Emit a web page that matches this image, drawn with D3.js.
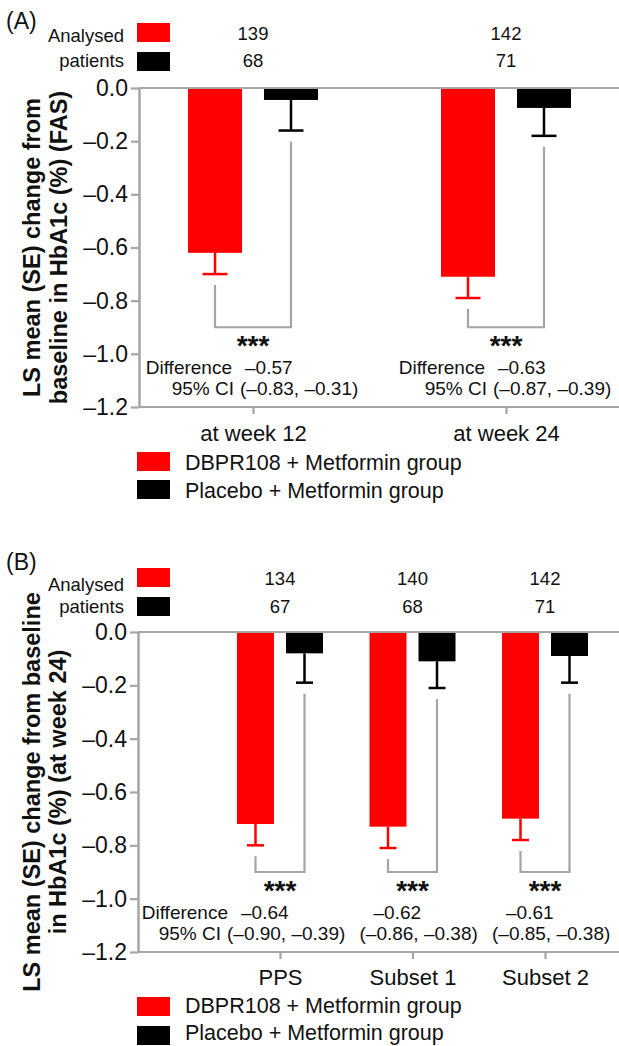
<!DOCTYPE html>
<html>
<head>
<meta charset="utf-8">
<script src="https://cdn.jsdelivr.net/npm/d3@7"></script>
<style>
  body { margin: 0; background: #fff; }
  svg text { font-family: "Liberation Sans", Arial, sans-serif; fill: #111; }
</style>
</head>
<body>
<div id="chart"></div>
<script>
// treatment groups (legend order)
var groups = ["DBPR108 + Metformin group", "Placebo + Metformin group"];
var groupColors = ["#ff0000", "#000000"];
var yTicks = [0, -0.2, -0.4, -0.6, -0.8, -1.0, -1.2];

// (A) FAS, week 12 / week 24
var catsA = ["at week 12", "at week 24"];
var nDbprA = [139, 142];
var nPlaceboA = [68, 71];
var meanDbprA = [-0.62, -0.71];
var seDbprA = [0.08, 0.08];
var meanPlaceboA = [-0.045, -0.075];
var sePlaceboA = [0.115, 0.105];
var diffA = ["–0.57", "–0.63"];
var ciA = ["(–0.83, –0.31)", "(–0.87, –0.39)"];

// (B) sensitivity sets at week 24
var catsB = ["PPS", "Subset 1", "Subset 2"];
var nDbprB = [134, 140, 142];
var nPlaceboB = [67, 68, 71];
var meanDbprB = [-0.72, -0.73, -0.70];
var seDbprB = [0.08, 0.08, 0.08];
var meanPlaceboB = [-0.08, -0.11, -0.09];
var sePlaceboB = [0.11, 0.10, 0.10];
var diffB = ["–0.64", "–0.62", "–0.61"];
var ciB = ["(–0.90, –0.39)", "(–0.86, –0.38)", "(–0.85, –0.38)"];

var W = 619, H = 1046;
var gray = "#a5a5a5";

var svg = d3.select("#chart").append("svg")
    .attr("width", W)
    .attr("height", H);

var panels = [
    {
        tag: "(A)", tagY: 29,
        title: ["LS mean (SE) change from", "baseline in HbA1c (%) (FAS)"], titleX: [40, 67],
        cats: catsA, nD: nDbprA, nP: nPlaceboA, meanD: meanDbprA, seD: seDbprA,
        meanP: meanPlaceboA, seP: sePlaceboA, diff: diffA, ci: ciA,
        boxY: [23, 52], nY: [39.5, 67], headY: [42, 67],
        yRange: [407, 88], axisX: 139, catRange: [253, 506],
        inner: 65, innerPad: 0.289, capW: 25, labelPad: 11,
        valOff: -8, ciOff: -13, labelsAll: true, legendY: [452, 480], legendDy: [18, 18]
    },
    {
        tag: "(B)", tagY: 570,
        title: ["LS mean (SE) change from baseline", "in HbA1c (%) (at week 24)"], titleX: [40, 66],
        cats: catsB, nD: nDbprB, nP: nPlaceboB, meanD: meanDbprB, seD: seDbprB,
        meanP: meanPlaceboB, seP: sePlaceboB, diff: diffB, ci: ciB,
        boxY: [568, 597], nY: [585, 613], headY: [591, 613],
        yRange: [952, 632], axisX: 138, catRange: [280, 545],
        inner: 43, innerPad: 0.245, capW: 17, labelPad: 10,
        valOff: -39, ciOff: -53, labelsAll: false, legendY: [997, 1026], legendDy: [16, 14]
    }
];

panels.forEach(function (p) { drawPanel(p); });

function drawPanel(p) {
    var g = svg.append("g");

    var y = d3.scaleLinear().domain([-1.2, 0]).range(p.yRange);
    var x = d3.scalePoint().domain(p.cats).range(p.catRange);
    var xg = d3.scaleBand().domain(groups).range([-p.inner, p.inner])
        .paddingInner(p.innerPad).paddingOuter(0);

    var rows = p.cats.map(function (c, i) {
        return {
            cat: c, diff: p.diff[i], ci: p.ci[i], i: i,
            vals: [
                { grp: groups[0], mean: p.meanD[i], se: p.seD[i], n: p.nD[i], color: groupColors[0] },
                { grp: groups[1], mean: p.meanP[i], se: p.seP[i], n: p.nP[i], color: groupColors[1] }
            ]
        };
    });

    // panel tag
    g.append("text").attr("x", 6).attr("y", p.tagY)
        .style("font-size", "23px").text(p.tag);

    // header: analysed patients
    g.append("text").attr("x", 124).attr("y", p.headY[0]).attr("text-anchor", "end")
        .style("font-size", "18.5px").text("Analysed");
    g.append("text").attr("x", 124).attr("y", p.headY[1]).attr("text-anchor", "end")
        .style("font-size", "18.5px").text("patients");
    groups.forEach(function (grp, k) {
        g.append("rect").attr("x", 137).attr("y", p.boxY[k])
            .attr("width", 33).attr("height", 19).attr("fill", groupColors[k]);
    });
    rows.forEach(function (r) {
        r.vals.forEach(function (v, k) {
            g.append("text").attr("x", x(r.cat)).attr("y", p.nY[k])
                .attr("text-anchor", "middle").style("font-size", "18.5px").text(v.n);
        });
    });

    // y axis title
    var midY = (p.yRange[0] + p.yRange[1]) / 2;
    p.title.forEach(function (t, k) {
        g.append("text")
            .attr("transform", "translate(" + p.titleX[k] + "," + midY + ") rotate(-90)")
            .attr("text-anchor", "middle")
            .style("font-size", "23.5px").style("font-weight", "bold")
            .text(t);
    });

    // bars
    var grp = g.selectAll(".cat").data(rows).enter().append("g")
        .attr("class", "cat")
        .attr("transform", function (d) { return "translate(" + x(d.cat) + ",0)"; });

    grp.selectAll("rect.bar").data(function (d) { return d.vals; }).enter()
        .append("rect").attr("class", "bar")
        .attr("x", function (v) { return xg(v.grp); })
        .attr("width", xg.bandwidth())
        .attr("y", y(0))
        .attr("height", function (v) { return y(v.mean) - y(0); })
        .attr("fill", function (v) { return v.color; });

    // error bars
    var cx = function (v) { return xg(v.grp) + xg.bandwidth() / 2; };
    grp.selectAll("line.stem").data(function (d) { return d.vals; }).enter()
        .append("line").attr("class", "stem")
        .attr("x1", cx).attr("x2", cx)
        .attr("y1", function (v) { return y(v.mean); })
        .attr("y2", function (v) { return y(v.mean - v.se); })
        .attr("stroke", function (v) { return v.color; })
        .attr("stroke-width", 2.5);
    grp.selectAll("line.cap").data(function (d) { return d.vals; }).enter()
        .append("line").attr("class", "cap")
        .attr("x1", function (v) { return cx(v) - p.capW / 2; })
        .attr("x2", function (v) { return cx(v) + p.capW / 2; })
        .attr("y1", function (v) { return y(v.mean - v.se); })
        .attr("y2", function (v) { return y(v.mean - v.se); })
        .attr("stroke", function (v) { return v.color; })
        .attr("stroke-width", 2.5);

    // significance brackets
    var level = y(-0.9), gap = 11;
    grp.append("path")
        .attr("d", function (d) {
            var a = d.vals[0], b = d.vals[1];
            return "M" + cx(a) + "," + (y(a.mean - a.se) + gap) +
                "V" + level + "H" + cx(b) + "V" + (y(b.mean - b.se) + gap);
        })
        .attr("fill", "none").attr("stroke", gray).attr("stroke-width", 2.2);

    grp.append("text").attr("x", 0).attr("y", level + 28)
        .attr("text-anchor", "middle")
        .style("font-size", "28px").style("font-weight", "bold")
        .text("***");

    // difference / CI
    grp.each(function (d) {
        var s = d3.select(this);
        var showLab = p.labelsAll || d.i === 0;
        if (showLab) {
            s.append("text").attr("x", p.valOff - 13).attr("y", level + 47)
                .attr("text-anchor", "end").style("font-size", "19px").text("Difference");
            s.append("text").attr("x", p.ciOff - 6).attr("y", level + 68)
                .attr("text-anchor", "end").style("font-size", "19px").text("95% CI");
        }
        s.append("text").attr("x", p.valOff).attr("y", level + 47)
            .style("font-size", "19px").text(d.diff);
        s.append("text").attr("x", p.ciOff).attr("y", level + 68)
            .style("font-size", "19px").text(d.ci);
    });

    // axes
    var fmt = d3.format(".1f");
    var yAxis = d3.axisLeft(y).tickValues(yTicks).tickSize(8).tickSizeOuter(0).tickPadding(3)
        .tickFormat(function (d) { return fmt(d).replace("−", "–"); });
    var ya = g.append("g").attr("transform", "translate(" + p.axisX + ",0)").call(yAxis);
    ya.select(".domain").attr("stroke", gray).attr("stroke-width", 2.5);
    ya.selectAll(".tick line").attr("stroke", gray).attr("stroke-width", 2.2);
    ya.selectAll(".tick text").style("font-size", "23px").attr("fill", "#111");

    var xAxis = d3.axisBottom(x).tickSize(7).tickSizeOuter(0).tickPadding(p.labelPad);
    var xa = g.append("g").attr("transform", "translate(0," + y(-1.2) + ")").call(xAxis);
    xa.select(".domain").remove();
    xa.selectAll(".tick line").attr("stroke", gray).attr("stroke-width", 2.2);
    xa.selectAll(".tick text").style("font-size", "22px").attr("fill", "#111");

    // baseline and bottom lines across the plot
    [0, -1.2].forEach(function (v) {
        g.append("line").attr("x1", p.axisX).attr("x2", W)
            .attr("y1", y(v)).attr("y2", y(v))
            .attr("stroke", gray).attr("stroke-width", 2.2);
    });

    // legend
    groups.forEach(function (name, k) {
        g.append("rect").attr("x", 137).attr("y", p.legendY[k])
            .attr("width", 33).attr("height", 19).attr("fill", groupColors[k]);
        g.append("text").attr("x", 185).attr("y", p.legendY[k] + p.legendDy[k])
            .style("font-size", "21.5px").text(name);
    });
}
</script>
</body>
</html>
